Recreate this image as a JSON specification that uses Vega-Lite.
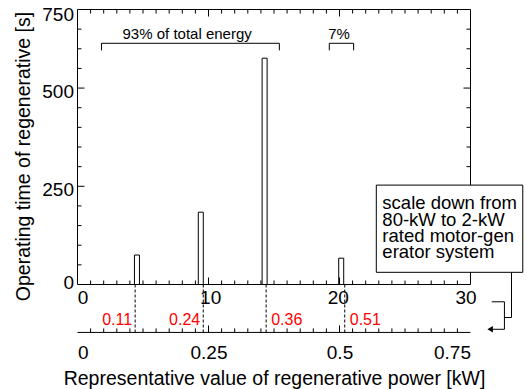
{
  "$schema": "https://vega.github.io/schema/vega-lite/v6.json",
  "width": 393,
  "height": 275,
  "autosize": {"type": "none"},
  "padding": {"left": 77.5, "top": 9.5, "right": 55.5, "bottom": 104.5},
  "config": {
    "font": "Liberation Sans",
    "view": {"stroke": null},
    "axis": {
      "domainColor": "black", "tickColor": "black", "labelColor": "black", "titleColor": "black",
      "labelFont": "Liberation Sans", "titleFont": "Liberation Sans",
      "labelFontSize": 19, "titleFontSize": 19.5, "titleFontWeight": "normal",
      "grid": false, "labelOverlap": false
    },
    "rule": {"stroke": "black", "strokeWidth": 1}
  },
  "datasets": {
    "bars": [
      {"power_80kw": 4.5, "seconds": 75},
      {"power_80kw": 9.5, "seconds": 184},
      {"power_80kw": 14.5, "seconds": 576},
      {"power_80kw": 20.5, "seconds": 67}
    ],
    "kw": [
      {"kw": 0.11, "label": "0.11"},
      {"kw": 0.24, "label": "0.24"},
      {"kw": 0.36, "label": "0.36"},
      {"kw": 0.51, "label": "0.51"}
    ],
    "brackets": [
      {"label": "93% of total energy", "start": 1.83, "end": 15.41, "mid": 8.37},
      {"label": "7%", "start": 19.22, "end": 21.08, "mid": 19.97}
    ],
    "note": [
      {"text": "scale down from\n80-kW to 2-kW\nrated motor-gen\nerator system"}
    ],
    "lines": [
      {"part": "connector", "x1": 31.62, "y1": -44, "x2": 32.59, "y2": -44},
      {"part": "connector", "x1": 32.59, "y1": -44, "x2": 32.59, "y2": -114},
      {"part": "connector", "x1": 32.59, "y1": -114, "x2": 31.5, "y2": -114},
      {"part": "connector", "x1": 33.13, "y1": 31, "x2": 33.13, "y2": -84},
      {"part": "connector", "x1": 33.13, "y1": -84, "x2": 32.59, "y2": -84},
      {"part": "frame", "x1": 0, "y1": 0, "x2": 30, "y2": 0},
      {"part": "frame", "x1": 0, "y1": 700, "x2": 30, "y2": 700},
      {"part": "frame", "x1": 0, "y1": 0, "x2": 0, "y2": 700},
      {"part": "frame", "x1": 30, "y1": 0, "x2": 30, "y2": 700},
      {"part": "kW axis line", "x1": 0, "y1": -122, "x2": 30, "y2": -122},
      {"part": "bottom tick", "x1": 1, "y1": 0, "x2": 1, "y2": 10.2},
      {"part": "bottom tick", "x1": 2, "y1": 0, "x2": 2, "y2": 10.2},
      {"part": "bottom tick", "x1": 3, "y1": 0, "x2": 3, "y2": 10.2},
      {"part": "bottom tick", "x1": 4, "y1": 0, "x2": 4, "y2": 10.2},
      {"part": "bottom tick", "x1": 5, "y1": 0, "x2": 5, "y2": 10.2},
      {"part": "bottom tick", "x1": 6, "y1": 0, "x2": 6, "y2": 10.2},
      {"part": "bottom tick", "x1": 7, "y1": 0, "x2": 7, "y2": 10.2},
      {"part": "bottom tick", "x1": 8, "y1": 0, "x2": 8, "y2": 10.2},
      {"part": "bottom tick", "x1": 9, "y1": 0, "x2": 9, "y2": 10.2},
      {"part": "bottom tick", "x1": 10, "y1": 0, "x2": 10, "y2": 17.8},
      {"part": "bottom tick", "x1": 11, "y1": 0, "x2": 11, "y2": 10.2},
      {"part": "bottom tick", "x1": 12, "y1": 0, "x2": 12, "y2": 10.2},
      {"part": "bottom tick", "x1": 13, "y1": 0, "x2": 13, "y2": 10.2},
      {"part": "bottom tick", "x1": 14, "y1": 0, "x2": 14, "y2": 10.2},
      {"part": "bottom tick", "x1": 15, "y1": 0, "x2": 15, "y2": 10.2},
      {"part": "bottom tick", "x1": 16, "y1": 0, "x2": 16, "y2": 10.2},
      {"part": "bottom tick", "x1": 17, "y1": 0, "x2": 17, "y2": 10.2},
      {"part": "bottom tick", "x1": 18, "y1": 0, "x2": 18, "y2": 10.2},
      {"part": "bottom tick", "x1": 19, "y1": 0, "x2": 19, "y2": 10.2},
      {"part": "bottom tick", "x1": 20, "y1": 0, "x2": 20, "y2": 17.8},
      {"part": "bottom tick", "x1": 21, "y1": 0, "x2": 21, "y2": 10.2},
      {"part": "bottom tick", "x1": 22, "y1": 0, "x2": 22, "y2": 10.2},
      {"part": "bottom tick", "x1": 23, "y1": 0, "x2": 23, "y2": 10.2},
      {"part": "bottom tick", "x1": 24, "y1": 0, "x2": 24, "y2": 10.2},
      {"part": "bottom tick", "x1": 25, "y1": 0, "x2": 25, "y2": 10.2},
      {"part": "bottom tick", "x1": 26, "y1": 0, "x2": 26, "y2": 10.2},
      {"part": "bottom tick", "x1": 27, "y1": 0, "x2": 27, "y2": 10.2},
      {"part": "bottom tick", "x1": 28, "y1": 0, "x2": 28, "y2": 10.2},
      {"part": "bottom tick", "x1": 29, "y1": 0, "x2": 29, "y2": 10.2},
      {"part": "top tick", "x1": 1, "y1": 700, "x2": 1, "y2": 689.8},
      {"part": "top tick", "x1": 2, "y1": 700, "x2": 2, "y2": 689.8},
      {"part": "top tick", "x1": 3, "y1": 700, "x2": 3, "y2": 689.8},
      {"part": "top tick", "x1": 4, "y1": 700, "x2": 4, "y2": 689.8},
      {"part": "top tick", "x1": 5, "y1": 700, "x2": 5, "y2": 689.8},
      {"part": "top tick", "x1": 6, "y1": 700, "x2": 6, "y2": 689.8},
      {"part": "top tick", "x1": 7, "y1": 700, "x2": 7, "y2": 689.8},
      {"part": "top tick", "x1": 8, "y1": 700, "x2": 8, "y2": 689.8},
      {"part": "top tick", "x1": 9, "y1": 700, "x2": 9, "y2": 689.8},
      {"part": "top tick", "x1": 10, "y1": 700, "x2": 10, "y2": 682.2},
      {"part": "top tick", "x1": 11, "y1": 700, "x2": 11, "y2": 689.8},
      {"part": "top tick", "x1": 12, "y1": 700, "x2": 12, "y2": 689.8},
      {"part": "top tick", "x1": 13, "y1": 700, "x2": 13, "y2": 689.8},
      {"part": "top tick", "x1": 14, "y1": 700, "x2": 14, "y2": 689.8},
      {"part": "top tick", "x1": 15, "y1": 700, "x2": 15, "y2": 689.8},
      {"part": "top tick", "x1": 16, "y1": 700, "x2": 16, "y2": 689.8},
      {"part": "top tick", "x1": 17, "y1": 700, "x2": 17, "y2": 689.8},
      {"part": "top tick", "x1": 18, "y1": 700, "x2": 18, "y2": 689.8},
      {"part": "top tick", "x1": 19, "y1": 700, "x2": 19, "y2": 689.8},
      {"part": "top tick", "x1": 20, "y1": 700, "x2": 20, "y2": 682.2},
      {"part": "top tick", "x1": 21, "y1": 700, "x2": 21, "y2": 689.8},
      {"part": "top tick", "x1": 22, "y1": 700, "x2": 22, "y2": 689.8},
      {"part": "top tick", "x1": 23, "y1": 700, "x2": 23, "y2": 689.8},
      {"part": "top tick", "x1": 24, "y1": 700, "x2": 24, "y2": 689.8},
      {"part": "top tick", "x1": 25, "y1": 700, "x2": 25, "y2": 689.8},
      {"part": "top tick", "x1": 26, "y1": 700, "x2": 26, "y2": 689.8},
      {"part": "top tick", "x1": 27, "y1": 700, "x2": 27, "y2": 689.8},
      {"part": "top tick", "x1": 28, "y1": 700, "x2": 28, "y2": 689.8},
      {"part": "top tick", "x1": 29, "y1": 700, "x2": 29, "y2": 689.8},
      {"part": "left tick", "x1": 0, "y1": 50, "x2": 0.305, "y2": 50},
      {"part": "left tick", "x1": 0, "y1": 100, "x2": 0.305, "y2": 100},
      {"part": "left tick", "x1": 0, "y1": 150, "x2": 0.305, "y2": 150},
      {"part": "left tick", "x1": 0, "y1": 200, "x2": 0.305, "y2": 200},
      {"part": "left tick", "x1": 0, "y1": 250, "x2": 0.534, "y2": 250},
      {"part": "left tick", "x1": 0, "y1": 300, "x2": 0.305, "y2": 300},
      {"part": "left tick", "x1": 0, "y1": 350, "x2": 0.305, "y2": 350},
      {"part": "left tick", "x1": 0, "y1": 400, "x2": 0.305, "y2": 400},
      {"part": "left tick", "x1": 0, "y1": 450, "x2": 0.305, "y2": 450},
      {"part": "left tick", "x1": 0, "y1": 500, "x2": 0.534, "y2": 500},
      {"part": "left tick", "x1": 0, "y1": 550, "x2": 0.305, "y2": 550},
      {"part": "left tick", "x1": 0, "y1": 600, "x2": 0.305, "y2": 600},
      {"part": "left tick", "x1": 0, "y1": 650, "x2": 0.305, "y2": 650},
      {"part": "right tick", "x1": 30, "y1": 50, "x2": 29.695, "y2": 50},
      {"part": "right tick", "x1": 30, "y1": 100, "x2": 29.695, "y2": 100},
      {"part": "right tick", "x1": 30, "y1": 150, "x2": 29.695, "y2": 150},
      {"part": "right tick", "x1": 30, "y1": 200, "x2": 29.695, "y2": 200},
      {"part": "right tick", "x1": 30, "y1": 250, "x2": 29.466, "y2": 250},
      {"part": "right tick", "x1": 30, "y1": 300, "x2": 29.695, "y2": 300},
      {"part": "right tick", "x1": 30, "y1": 350, "x2": 29.695, "y2": 350},
      {"part": "right tick", "x1": 30, "y1": 400, "x2": 29.695, "y2": 400},
      {"part": "right tick", "x1": 30, "y1": 450, "x2": 29.695, "y2": 450},
      {"part": "right tick", "x1": 30, "y1": 500, "x2": 29.466, "y2": 500},
      {"part": "right tick", "x1": 30, "y1": 550, "x2": 29.695, "y2": 550},
      {"part": "right tick", "x1": 30, "y1": 600, "x2": 29.695, "y2": 600},
      {"part": "right tick", "x1": 30, "y1": 650, "x2": 29.695, "y2": 650},
      {"part": "kW tick", "x1": 1, "y1": -122, "x2": 1, "y2": -111.8},
      {"part": "kW tick", "x1": 2, "y1": -122, "x2": 2, "y2": -111.8},
      {"part": "kW tick", "x1": 3, "y1": -122, "x2": 3, "y2": -111.8},
      {"part": "kW tick", "x1": 4, "y1": -122, "x2": 4, "y2": -111.8},
      {"part": "kW tick", "x1": 5, "y1": -122, "x2": 5, "y2": -111.8},
      {"part": "kW tick", "x1": 6, "y1": -122, "x2": 6, "y2": -111.8},
      {"part": "kW tick", "x1": 7, "y1": -122, "x2": 7, "y2": -111.8},
      {"part": "kW tick", "x1": 8, "y1": -122, "x2": 8, "y2": -111.8},
      {"part": "kW tick", "x1": 9, "y1": -122, "x2": 9, "y2": -111.8},
      {"part": "kW tick", "x1": 10, "y1": -122, "x2": 10, "y2": -104.2},
      {"part": "kW tick", "x1": 11, "y1": -122, "x2": 11, "y2": -111.8},
      {"part": "kW tick", "x1": 12, "y1": -122, "x2": 12, "y2": -111.8},
      {"part": "kW tick", "x1": 13, "y1": -122, "x2": 13, "y2": -111.8},
      {"part": "kW tick", "x1": 14, "y1": -122, "x2": 14, "y2": -111.8},
      {"part": "kW tick", "x1": 15, "y1": -122, "x2": 15, "y2": -111.8},
      {"part": "kW tick", "x1": 16, "y1": -122, "x2": 16, "y2": -111.8},
      {"part": "kW tick", "x1": 17, "y1": -122, "x2": 17, "y2": -111.8},
      {"part": "kW tick", "x1": 18, "y1": -122, "x2": 18, "y2": -111.8},
      {"part": "kW tick", "x1": 19, "y1": -122, "x2": 19, "y2": -111.8},
      {"part": "kW tick", "x1": 20, "y1": -122, "x2": 20, "y2": -104.2},
      {"part": "kW tick", "x1": 21, "y1": -122, "x2": 21, "y2": -111.8},
      {"part": "kW tick", "x1": 22, "y1": -122, "x2": 22, "y2": -111.8},
      {"part": "kW tick", "x1": 23, "y1": -122, "x2": 23, "y2": -111.8},
      {"part": "kW tick", "x1": 24, "y1": -122, "x2": 24, "y2": -111.8},
      {"part": "kW tick", "x1": 25, "y1": -122, "x2": 25, "y2": -111.8},
      {"part": "kW tick", "x1": 26, "y1": -122, "x2": 26, "y2": -111.8},
      {"part": "kW tick", "x1": 27, "y1": -122, "x2": 27, "y2": -111.8},
      {"part": "kW tick", "x1": 28, "y1": -122, "x2": 28, "y2": -111.8},
      {"part": "kW tick", "x1": 29, "y1": -122, "x2": 29, "y2": -111.8}
    ]
  },
  "layer": [
    {
      "data": {"name": "bars"},
      "mark": {"type": "bar", "size": 5, "fill": "white", "stroke": "black", "strokeWidth": 1, "xOffset": -3},
      "encoding": {
        "x": {"field": "power_80kw", "type": "quantitative",
          "scale": {"domain": [0, 30], "nice": false, "zero": false},
          "axis": {"orient": "bottom", "values": [0, 10, 20, 30], "labelExpr": "'' + datum.value", "ticks": false, "domain": false, "labelPadding": 4, "title": null}},
        "y": {"field": "seconds", "type": "quantitative",
          "scale": {"domain": [0, 700], "nice": false},
          "axis": {"orient": "left", "values": [250, 500], "ticks": false, "domain": false, "labelPadding": 4, "labelOffset": 3,
            "title": "Operating time of regenerative [s]", "titleX": -48.5, "titleY": 146.5, "titleAlign": "center", "titleBaseline": "alphabetic", "titleAngle": -90}}
      }
    },
    {
      "data": {"name": "brackets"},
      "mark": {"type": "rule"},
      "encoding": {
        "x": {"field": "start", "type": "quantitative", "scale": {"domain": [0, 30], "nice": false, "zero": false}, "axis": null},
        "x2": {"field": "end"},
        "y": {"datum": 614, "type": "quantitative", "scale": {"domain": [0, 700], "nice": false},
          "axis": {"orient": "left", "values": [700], "labelExpr": "'750'", "labelBaseline": "top", "labelOffset": -4, "ticks": false, "domain": false, "labelPadding": 4, "title": null}}
      }
    },
    {
      "data": {"name": "brackets"},
      "mark": {"type": "rule"},
      "encoding": {
        "x": {"field": "start", "type": "quantitative", "scale": {"domain": [0, 30], "nice": false, "zero": false}, "axis": null},
        "y": {"datum": 596, "type": "quantitative", "scale": {"domain": [0, 700], "nice": false},
          "axis": {"orient": "left", "values": [0], "labelExpr": "'0'", "labelOffset": -2.5, "ticks": false, "domain": false, "labelPadding": 4, "title": null}},
        "y2": {"datum": 614}
      }
    },
    {
      "data": {"name": "brackets"},
      "mark": {"type": "rule"},
      "encoding": {
        "x": {"field": "end", "type": "quantitative", "scale": {"domain": [0, 30], "nice": false, "zero": false}, "axis": null},
        "y": {"datum": 596, "type": "quantitative", "scale": {"domain": [0, 700], "nice": false}, "axis": null},
        "y2": {"datum": 614}
      }
    },
    {
      "data": {"name": "brackets"},
      "mark": {"type": "text", "fontSize": 15, "baseline": "alphabetic", "align": "center", "color": "black"},
      "encoding": {
        "x": {"field": "mid", "type": "quantitative", "scale": {"domain": [0, 30], "nice": false, "zero": false}, "axis": null},
        "y": {"datum": 626, "type": "quantitative", "scale": {"domain": [0, 700], "nice": false}, "axis": null},
        "text": {"field": "label"}
      }
    },
    {
      "data": {"name": "kw"},
      "mark": {"type": "rule", "strokeDash": [3, 2]},
      "encoding": {
        "x": {"field": "kw", "type": "quantitative",
          "scale": {"domain": [0, 0.75], "nice": false, "zero": false},
          "axis": {"orient": "bottom", "offset": 48, "values": [0, 0.25, 0.5, 0.75], "labelExpr": "'' + datum.value", "ticks": false, "domain": false, "labelPadding": 11,
            "title": "Representative value of regenerative power [kW]", "titleY": 51.5, "titleBaseline": "alphabetic"}},
        "y": {"datum": 0, "type": "quantitative", "scale": {"domain": [0, 700], "nice": false}, "axis": null},
        "y2": {"datum": -122}
      }
    },
    {
      "data": {"name": "kw"},
      "transform": [{"filter": "datum.kw < 0.3"}],
      "mark": {"type": "text", "fontSize": 16, "color": "#ff0000", "align": "right", "baseline": "alphabetic", "dx": -3},
      "encoding": {
        "x": {"field": "kw", "type": "quantitative", "scale": {"domain": [0, 0.75], "nice": false, "zero": false}, "axis": null},
        "y": {"datum": -103, "type": "quantitative", "scale": {"domain": [0, 700], "nice": false}, "axis": null},
        "text": {"field": "label"}
      }
    },
    {
      "data": {"name": "kw"},
      "transform": [{"filter": "datum.kw > 0.3"}],
      "mark": {"type": "text", "fontSize": 16, "color": "#ff0000", "align": "left", "baseline": "alphabetic", "dx": 5},
      "encoding": {
        "x": {"field": "kw", "type": "quantitative", "scale": {"domain": [0, 0.75], "nice": false, "zero": false}, "axis": null},
        "y": {"datum": -103, "type": "quantitative", "scale": {"domain": [0, 700], "nice": false}, "axis": null},
        "text": {"field": "label"}
      }
    },
    {
      "data": {"name": "lines"},
      "mark": {"type": "rule"},
      "encoding": {
        "x": {"field": "x1", "type": "quantitative", "scale": {"domain": [0, 30], "nice": false, "zero": false}, "axis": null},
        "x2": {"field": "x2"},
        "y": {"field": "y1", "type": "quantitative", "scale": {"domain": [0, 700], "nice": false, "zero": false}, "axis": null},
        "y2": {"field": "y2"}
      }
    },
    {
      "data": {"name": "note"},
      "mark": {"type": "rect", "fill": "white", "stroke": "black", "strokeWidth": 1},
      "encoding": {
        "x": {"datum": 22.81, "type": "quantitative", "scale": {"domain": [0, 30], "nice": false, "zero": false}, "axis": null},
        "x2": {"datum": 33.99},
        "y": {"datum": 253, "type": "quantitative", "scale": {"domain": [0, 700], "nice": false}, "axis": null},
        "y2": {"datum": 31}
      }
    },
    {
      "data": {"name": "note"},
      "mark": {"type": "text", "fontSize": 18.5, "align": "left", "baseline": "alphabetic", "lineBreak": "\n", "lineHeight": 16.3, "color": "black"},
      "encoding": {
        "x": {"datum": 23.27, "type": "quantitative", "scale": {"domain": [0, 30], "nice": false, "zero": false}, "axis": null},
        "y": {"datum": 191.5, "type": "quantitative", "scale": {"domain": [0, 700], "nice": false}, "axis": null},
        "text": {"field": "text"}
      }
    },
    {
      "data": {"values": [{"marker": "arrowhead"}]},
      "mark": {"type": "point", "shape": "triangle-left", "filled": true, "color": "black", "size": 40, "opacity": 1},
      "encoding": {
        "x": {"datum": 31.5, "type": "quantitative", "scale": {"domain": [0, 30], "nice": false, "zero": false}, "axis": null},
        "y": {"datum": -114, "type": "quantitative", "scale": {"domain": [0, 700], "nice": false, "zero": false}, "axis": null}
      }
    }
  ],
  "resolve": {
    "scale": {"x": "independent", "y": "independent"},
    "axis": {"x": "independent", "y": "independent"}
  }
}
